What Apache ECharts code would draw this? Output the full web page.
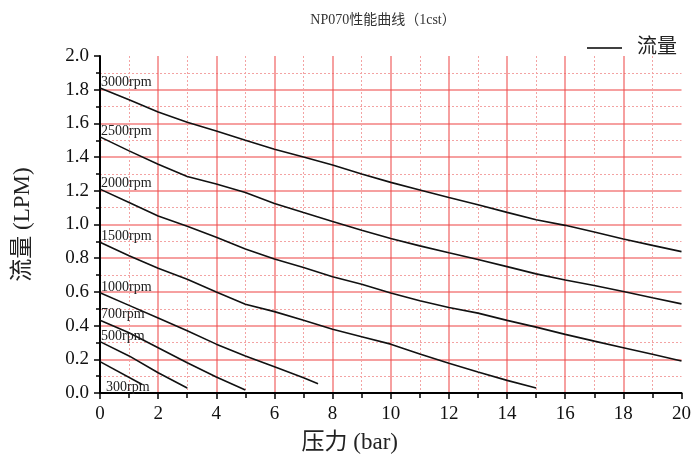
<!DOCTYPE html>
<html><head><meta charset="utf-8">
<script src="https://cdn.jsdelivr.net/npm/echarts@6/dist/echarts.min.js"></script>
<style>html,body{margin:0;padding:0;background:#fff}#c{width:694px;height:459px}</style>
</head><body><div id="c"></div>
<script>
const titleText = 'NP070性能曲线（1cst）';
const xName = '压力 (bar)';
const yName = '流量 (LPM)';
const legendName = '流量';
const rpmLabels = ['3000rpm', '2500rpm', '2000rpm', '1500rpm', '1000rpm', '700rpm', '500rpm', '300rpm'];

const pressure20 = [0,1,2,3,4,5,6,7,8,9,10,11,12,13,14,15,16,17,18,19,20];
const flow3000 = [1.81,1.74,1.667,1.607,1.555,1.50,1.447,1.40,1.353,1.30,1.25,1.205,1.16,1.117,1.072,1.028,0.995,0.955,0.914,0.876,0.839];
const flow2500 = [1.52,1.437,1.358,1.285,1.24,1.19,1.125,1.071,1.018,0.966,0.917,0.873,0.832,0.792,0.75,0.707,0.671,0.638,0.602,0.565,0.529];
const flow2000 = [1.21,1.13,1.05,0.99,0.925,0.855,0.795,0.745,0.69,0.645,0.594,0.547,0.507,0.474,0.431,0.391,0.348,0.308,0.269,0.23,0.19];
const pressure1500 = [0,1,2,3,4,5,6,7,8,9,10,11,12,13,14,15];
const flow1500 = [0.895,0.814,0.74,0.675,0.60,0.527,0.483,0.432,0.378,0.334,0.29,0.232,0.176,0.125,0.075,0.03];
const pressure1000 = [0,1,2,3,4,5,6,7,7.5];
const flow1000 = [0.595,0.52,0.445,0.37,0.29,0.22,0.156,0.09,0.055];
const pressure700 = [0,1,2,3,4,5];
const flow700 = [0.432,0.358,0.269,0.18,0.095,0.018];
const pressure500 = [0,1,2,3];
const flow500 = [0.305,0.22,0.12,0.03];
const pressure300 = [0,1.45];
const flow300 = [0.186,0.05];

const curves = [
  [pressure20, flow3000],
  [pressure20, flow2500],
  [pressure20, flow2000],
  [pressure1500, flow1500],
  [pressure1000, flow1000],
  [pressure700, flow700],
  [pressure500, flow500],
  [pressure300, flow300]
];

const serif = '"Liberation Serif", "Noto Sans CJK SC", serif';
const gridRed = 'rgb(240,80,80)';
const gridPink = '#f3a3a3';

const series = curves.map(function (c, i) {
  const xs = c[0], ys = c[1];
  const data = xs.map(function (x, j) {
    const item = { value: [x, ys[j]] };
    if (j === 0) {
      const isLast = i === curves.length - 1;
      item.label = {
        show: true,
        formatter: rpmLabels[i],
        position: 'top',
        align: 'left',
        distance: 0,
        offset: isLast ? [6, 33] : [1, 2],
        fontSize: 14,
        fontFamily: serif,
        color: '#222'
      };
    }
    return item;
  });
  return {
    name: legendName,
    type: 'line',
    data: data,
    showSymbol: true,
    symbol: 'circle',
    symbolSize: 1,
    itemStyle: { color: 'rgba(0,0,0,0)' },
    lineStyle: { color: '#111', width: 1.6 },
    silent: true,
    animation: false,
    z: 5
  };
});

const chart = echarts.init(document.getElementById('c'), null, { renderer: 'canvas' });
chart.setOption({
  backgroundColor: '#fff',
  animation: false,
  title: {
    text: titleText,
    left: 378,
    top: 8,
    textAlign: 'center',
    textStyle: { fontSize: 14, fontWeight: 'normal', color: '#333', fontFamily: serif }
  },
  legend: {
    data: [legendName],
    right: 12,
    top: 33,
    icon: 'rect',
    itemWidth: 35,
    itemHeight: 1.5,
    itemGap: 10,
    itemStyle: { color: '#000' },
    textStyle: { fontSize: 20, color: '#222', fontFamily: serif, padding: [0, 0, 0, 10] }
  },
  grid: { left: 100, right: 11, top: 56, bottom: 66, containLabel: false },
  xAxis: {
    type: 'value',
    min: 0, max: 20, interval: 2,
    name: xName,
    nameLocation: 'middle',
    nameGap: 38,
    nameTextStyle: { fontSize: 23, color: '#222', fontFamily: serif, padding: [0, 82, 0, 0] },
    axisLine: { show: true, onZero: false, lineStyle: { color: '#000', width: 2 } },
    axisTick: { show: true, inside: false, length: 6, lineStyle: { color: '#000', width: 1.5 } },
    minorTick: { show: true, splitNumber: 2, length: 5, lineStyle: { color: '#000', width: 1.5 } },
    axisLabel: { fontSize: 19, color: '#111', margin: 12, fontFamily: serif },
    splitLine: { show: true, showMinLine: false, showMaxLine: false, lineStyle: { color: gridRed, width: 1.5, opacity: 0.72 } },
    minorSplitLine: { show: true, lineStyle: { color: gridPink, width: 1, type: [2, 2] } }
  },
  yAxis: {
    type: 'value',
    min: 0, max: 2, interval: 0.2,
    name: yName,
    nameLocation: 'middle',
    nameGap: 66,
    nameRotate: 90,
    nameTextStyle: { fontSize: 23, color: '#222', fontFamily: serif },
    axisLine: { show: true, onZero: false, lineStyle: { color: '#000', width: 2 } },
    axisTick: { show: true, inside: false, length: 6, lineStyle: { color: '#000', width: 1.5 } },
    minorTick: { show: true, splitNumber: 2, length: 4, lineStyle: { color: '#000', width: 1.5 } },
    axisLabel: { fontSize: 19, color: '#111', margin: 11, fontFamily: serif,
      formatter: function (v) { return v.toFixed(1); } },
    splitLine: { show: true, showMinLine: false, showMaxLine: false, lineStyle: { color: gridRed, width: 1.5, opacity: 0.72 } },
    minorSplitLine: { show: true, lineStyle: { color: gridPink, width: 1, type: [2, 2] } }
  },
  series: series
});
</script>
</body></html>
